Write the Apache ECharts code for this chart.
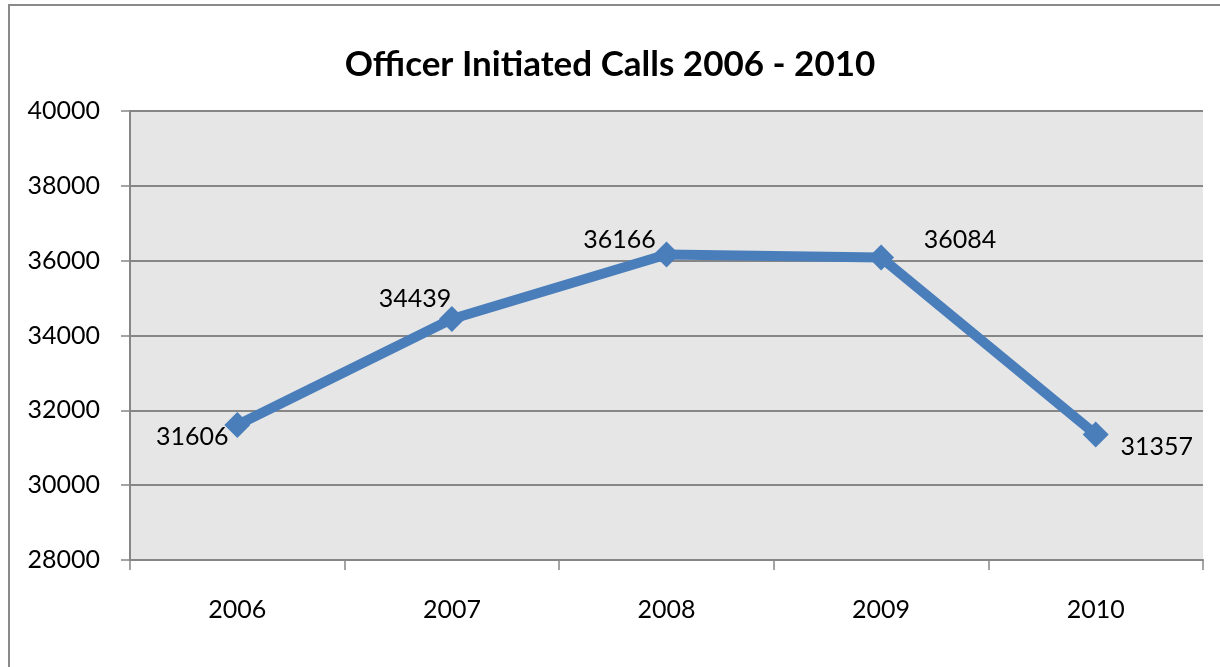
<!DOCTYPE html>
<html><head><meta charset="utf-8">
<script src="https://cdn.jsdelivr.net/npm/echarts@6/dist/echarts.min.js"></script>
<style>html,body{margin:0;padding:0;background:#fff}#c{width:1220px;height:667px;position:relative}
#frame{position:absolute;left:8px;top:4px;width:1230px;height:700px;border:2px solid #8a8a8a;box-sizing:border-box;pointer-events:none}</style>
</head><body><div id="c"></div><div id="frame"></div>
<script>
const title = 'Officer Initiated Calls 2006 - 2010';
const years = ['2006','2007','2008','2009','2010'];
const calls = [31606, 34439, 36166, 36084, 31357];
const yTicks = [28000, 30000, 32000, 34000, 36000, 38000, 40000];
const labelOffsets = [[-45,12],[-37,-20],[-47,-15],[79,-18],[61,13]];

const chart = echarts.init(document.getElementById('c'), null, {renderer:'canvas'});
const font = 'Lato, "Open Sans", sans-serif';
chart.setOption({
  animation:false,
  backgroundColor:'#fff',
  title:{text:title,left:'center',top:42,textStyle:{fontFamily:font,fontWeight:'bold',fontSize:35,color:'#000'}},
  grid:{left:130,right:17,top:111,bottom:107,show:true,backgroundColor:'#e6e6e6',borderWidth:0},
  xAxis:{type:'category',data:years,boundaryGap:true,
    axisLine:{show:true,lineStyle:{color:'#868686',width:2}},
    axisTick:{show:true,length:10,lineStyle:{color:'#868686',width:1.5},alignWithLabel:false},
    axisLabel:{fontFamily:font,fontSize:25,color:'#000',margin:37}},
  yAxis:{type:'value',min:yTicks[0],max:yTicks[yTicks.length-1],interval:2000,
    axisLine:{show:true,lineStyle:{color:'#868686',width:2}},
    axisTick:{show:true,length:9,lineStyle:{color:'#868686',width:1.5}},
    splitLine:{show:true,lineStyle:{color:'#868686',width:2}},
    axisLabel:{fontFamily:font,fontSize:25,color:'#000',margin:30,formatter:v=>String(v)}},
  series:[{type:'line',data:calls.map((v,i)=>({value:v,label:{offset:labelOffsets[i]}})),
    lineStyle:{color:'#4a7ebb',width:10},
    itemStyle:{color:'#4a7ebb'},
    symbol:'diamond',symbolSize:26,
    label:{show:true,position:'inside',fontFamily:font,fontSize:25,color:'#000'}}]
});
</script></body></html>
